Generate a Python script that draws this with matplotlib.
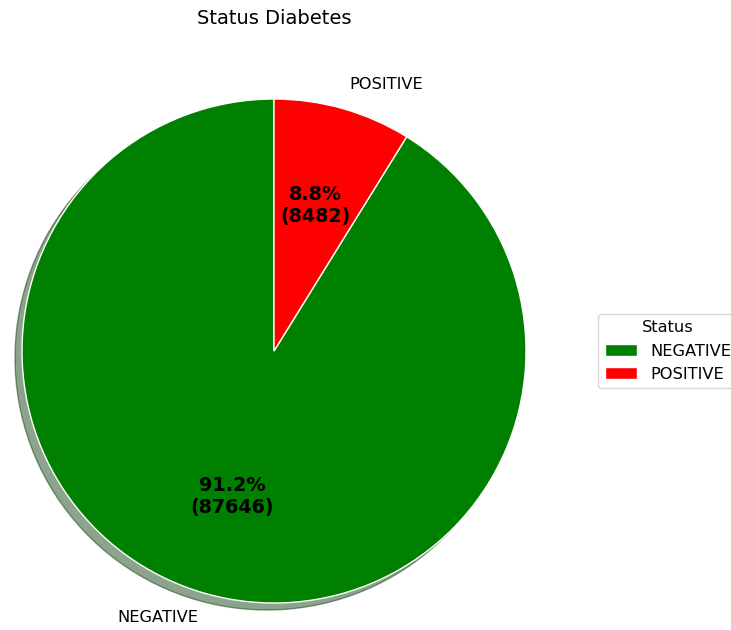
import matplotlib.pyplot as plt

status = ['NEGATIVE', 'POSITIVE']
counts = [87646, 8482]
colors = ['green', 'red']

total = sum(counts)


def fmt(pct):
    n = int(round(pct * total / 100.0))
    return '%.1f%%\n(%d)' % (pct, n)


fig = plt.figure(figsize=(7.31, 6.30), dpi=100)
ax = fig.add_axes([0, 0, 1, 1])

wedges, texts, autotexts = ax.pie(counts, labels=status, colors=colors,
                                  autopct=fmt, startangle=90,
                                  shadow={'ox': -0.02, 'oy': -0.02, 'shade': 0.6, 'alpha': 0.45},
                                  wedgeprops={'edgecolor': 'white', 'linewidth': 1},
                                  textprops={'fontsize': 11.7})
for t in autotexts:
    t.set_fontsize(13.8)
    t.set_fontweight('bold')
    t.set_color('black')

# one data unit = 252 px, pie centre at (274, 351) px from the top-left
ax.set_xlim(-274 / 252, (731 - 274) / 252)
ax.set_ylim(-(630 - 351) / 252, 351 / 252)
ax.set_aspect('equal')
ax.axis('off')

fig.text(274 / 731, 1 - 18 / 630, 'Status Diabetes', ha='center', va='center', fontsize=14)

fig.legend(wedges, status, title='Status', loc='center left',
           bbox_to_anchor=(590 / 731, 1 - 351 / 630), fontsize=11.7, title_fontsize=11.7)

fig.savefig('out.png', dpi=100)
